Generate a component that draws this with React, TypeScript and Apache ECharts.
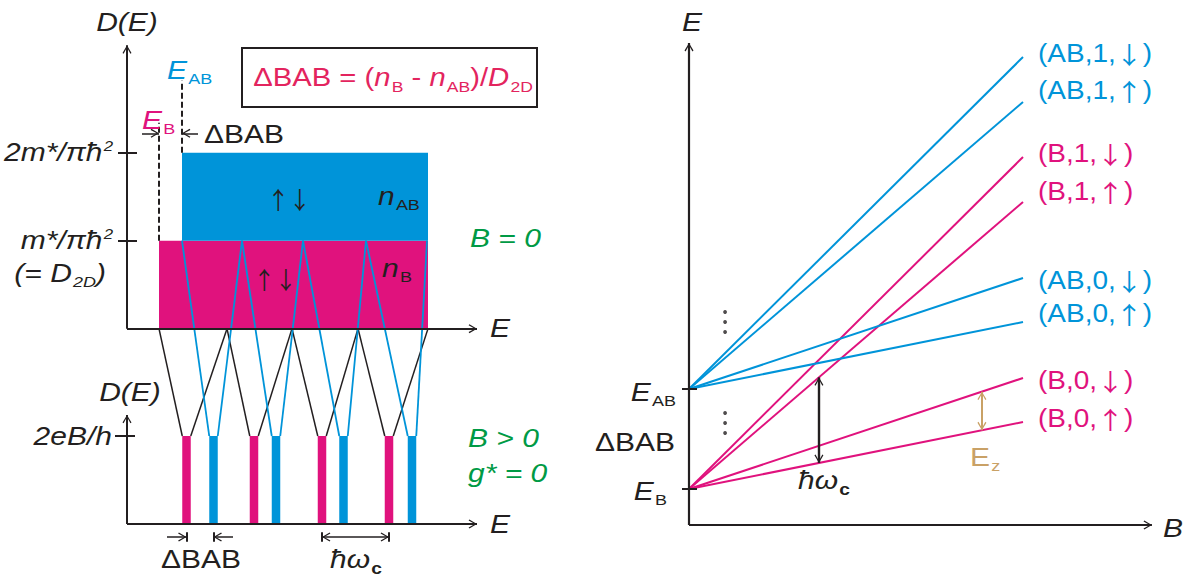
import React, { useEffect, useRef } from 'react';
import * as echarts from 'echarts';

// ---------- Left panel: density of states (E in arbitrary units) ----------
const E_B_LEFT = 3.2; // bonding subband edge E_B
const E_AB_LEFT = 5.5; // antibonding subband edge E_AB
const BAND_END = 30.1; // right end of the drawn bands
const DOS_LEVELS = [1, 2]; // m*/πħ², 2m*/πħ² (in units of D_2D)
const LL_HEIGHT = 1; // 2eB/h
const B_LEVELS = [5.95, 12.7, 19.5, 26.2]; // bonding Landau levels
const AB_LEVELS = [8.65, 14.9, 21.65, 28.5]; // antibonding Landau levels
const B_EDGES = [3.2, 10.0, 16.5, 23.1, 30.1];
const AB_EDGES = [5.5, 11.5, 17.6, 23.9, 30.0];
const LL_WIDTH = 0.85;

// ---------- Right panel: Landau fan ----------
const FAN_BAND = ['AB', 'AB', 'B', 'B', 'AB', 'AB', 'B', 'B'];
const FAN_N = ['1', '1', '1', '1', '0', '0', '0', '0'];
const FAN_SPIN = ['↓', '↑', '↓', '↑', '↓', '↑', '↓', '↑'];
const SUBBAND_E: Record<string, number> = { B: 1.0, AB: 2.0 };
const FAN_END = [5.32, 4.87, 4.32, 3.87, 3.11, 2.67, 2.11, 1.67]; // E at B = 1
const FAN_B_END = 1;
const HW_B = 0.389; // field where ħω_c is marked
const EZ_B = 0.877; // field where E_z is marked
const DOT_B = 0.108;
const DOTS_E = [2.77, 2.67, 2.57, 1.76, 1.66, 1.56];

// ---------- styling ----------
const MAGENTA = '#e0127d';
const BLUE = '#0094d9';
const GREEN = '#009a45';
const TAN = '#c9a166';
const INK = '#231f20';
const CRIMSON = '#e3245e';
const FONT = '"Liberation Sans", Arial, Helvetica, sans-serif';
const ARROW_FONT = '"Noto Sans CJK JP", "Noto Sans CJK SC", "DejaVu Sans", sans-serif';
const FS = 25;
const SUB = 15;
const SUB_DROP = 14;
const SX = 1.2;

const UB = 2.22; // vertical offset of the upper (B = 0) panel in the left grid

const ARROW =
  'path://M-8.4,-8.4L-8.39,-8.4L-8.4,-8.39ZM8.4,8.4L8.39,8.4L8.4,8.39ZM0,0L4.5,7.6L3.4,8.4L0,2.2L-3.4,8.4L-4.5,7.6Z';
const ARROW_SIZE = 16.8;

const fanE = (i: number, b: number) => {
  const s = SUBBAND_E[FAN_BAND[i]];
  return s + ((FAN_END[i] - s) * b) / FAN_B_END;
};

const seg = (xi: number, coords: number[][][], color: string, width: number, extra: any = {}) => ({
  type: 'lines',
  coordinateSystem: 'cartesian2d',
  xAxisIndex: xi,
  yAxisIndex: xi,
  silent: true,
  z: extra.z ?? 3,
  symbol: extra.symbol ?? 'none',
  symbolSize: ARROW_SIZE,
  lineStyle: { color, width, opacity: 1, type: extra.type ?? 'solid', curveness: 0, cap: 'butt' },
  data: coords.map((c) => ({ coords: c })),
});

const label = (
  x: number,
  yc: number,
  toks: [string, string][],
  color: string,
  align = 'left',
  sx = SX
) => {
  const base = { fontFamily: FONT, fill: color, verticalAlign: 'top' };
  const r = { ...base, fontSize: FS, lineHeight: FS };
  const s = { ...base, fontSize: SUB, lineHeight: SUB, padding: [SUB_DROP, 0, 0, 1] };
  const rich: any = {
    r,
    i: { ...r, fontStyle: 'italic' },
    a: { ...r, fontFamily: ARROW_FONT, fontSize: 24, lineHeight: FS },
    s,
    si: { ...s, fontStyle: 'italic' },
    sb: { ...s, fontWeight: 'bold', fontSize: SUB + 1 },
    p: { ...base, fontSize: 14, lineHeight: 14, padding: [0, 0, 0, 1], fontStyle: 'italic' },
  };
  return {
    type: 'text',
    x,
    y: yc - FS / 2,
    scaleX: sx,
    silent: true,
    z: 100,
    style: {
      text: toks.map(([k, t]) => `{${k}|${t}}`).join(''),
      rich,
      align,
      verticalAlign: 'top',
      fill: color,
      fontSize: FS,
      fontFamily: FONT,
    },
  };
};

const rectItem = (params: any, api: any) => {
  const tl = api.coord([api.value(0), api.value(3)]);
  const br = api.coord([api.value(1), api.value(2)]);
  return {
    type: 'rect',
    shape: { x: tl[0], y: tl[1], width: br[0] - tl[0], height: br[1] - tl[1] },
    style: { fill: api.visual('color') },
  };
};

function buildOption() {
  const half = LL_WIDTH / 2;
  const blackConn: number[][][] = [];
  const blueConn: number[][][] = [];
  B_LEVELS.forEach((c, k) => {
    blackConn.push([[c - half, LL_HEIGHT], [B_EDGES[k], UB]]);
    blackConn.push([[c + half, LL_HEIGHT], [B_EDGES[k + 1], UB]]);
  });
  AB_LEVELS.forEach((c, k) => {
    blueConn.push([[c - half, LL_HEIGHT], [AB_EDGES[k], UB + DOS_LEVELS[0]]]);
    blueConn.push([[c + half, LL_HEIGHT], [AB_EDGES[k + 1], UB + DOS_LEVELS[0]]]);
  });

  const yA = -0.148; // lower annotation row
  const series: any[] = [
    {
      type: 'custom',
      xAxisIndex: 0,
      yAxisIndex: 0,
      silent: true,
      z: 1,
      renderItem: rectItem,
      encode: { x: [0, 1], y: [2, 3] },
      data: [
        { value: [E_B_LEFT, BAND_END, UB, UB + DOS_LEVELS[0]], itemStyle: { color: MAGENTA } },
        { value: [E_AB_LEFT, BAND_END, UB + DOS_LEVELS[0], UB + DOS_LEVELS[1]], itemStyle: { color: BLUE } },
      ],
    },
    {
      type: 'custom',
      xAxisIndex: 0,
      yAxisIndex: 0,
      silent: true,
      z: 1,
      renderItem: rectItem,
      encode: { x: [0, 1], y: [2, 3] },
      data: [
        ...B_LEVELS.map((c) => ({ value: [c - half, c + half, 0, LL_HEIGHT], itemStyle: { color: MAGENTA } })),
        ...AB_LEVELS.map((c) => ({ value: [c - half, c + half, 0, LL_HEIGHT], itemStyle: { color: BLUE } })),
      ],
    },
    seg(0, blackConn, INK, 1.5),
    seg(0, blueConn, BLUE, 1.8, { z: 4 }),
    // dashed edges
    seg(
      0,
      [
        [[E_B_LEFT, UB + DOS_LEVELS[0]], [E_B_LEFT, UB + 2.34]],
        [[E_AB_LEFT, UB + DOS_LEVELS[1]], [E_AB_LEFT, UB + 2.82]],
      ],
      INK,
      2,
      { type: [6, 3] }
    ),
    // axes (left)
    seg(
      0,
      [
        [[0, UB], [0, UB + 3.22]],
        [[0, UB], [35, UB]],
        [[0, 0], [0, 1.24]],
        [[0, 0], [35, 0]],
      ],
      INK,
      2,
      { symbol: ['none', ARROW], z: 6 }
    ),
    // ticks (left)
    seg(
      0,
      [
        [[-0.9, UB + DOS_LEVELS[0]], [1.0, UB + DOS_LEVELS[0]]],
        [[-0.9, UB + DOS_LEVELS[1]], [1.0, UB + DOS_LEVELS[1]]],
        [[-1.2, LL_HEIGHT], [0.8, LL_HEIGHT]],
        [[B_LEVELS[0], yA + 0.055], [B_LEVELS[0], yA - 0.055]],
        [[AB_LEVELS[0], yA + 0.055], [AB_LEVELS[0], yA - 0.055]],
        [[B_LEVELS[2], yA + 0.055], [B_LEVELS[2], yA - 0.055]],
        [[B_LEVELS[3], yA + 0.055], [B_LEVELS[3], yA - 0.055]],
      ],
      INK,
      2,
      { z: 6 }
    ),
    // ΔBAB arrows (left)
    seg(
      0,
      [
        [[1.5, UB + 2.22], [E_B_LEFT, UB + 2.22]],
        [[7.1, UB + 2.22], [E_AB_LEFT, UB + 2.22]],
        [[4.0, yA], [B_LEVELS[0], yA]],
        [[10.6, yA], [AB_LEVELS[0], yA]],
      ],
      INK,
      1.6,
      { symbol: ['none', ARROW], z: 6 }
    ),
    seg(0, [[[B_LEVELS[2], yA], [B_LEVELS[3], yA]]], INK, 1.6, { symbol: [ARROW, ARROW], z: 6 }),
  ];

  // right panel: fan lines
  FAN_END.forEach((end, i) => {
    const color = FAN_BAND[i] === 'B' ? MAGENTA : BLUE;
    series.push({
      type: 'line',
      name: `(${FAN_BAND[i]},${FAN_N[i]},${FAN_SPIN[i]})`,
      xAxisIndex: 1,
      yAxisIndex: 1,
      silent: true,
      symbol: 'none',
      showSymbol: false,
      z: 2,
      lineStyle: { color, width: 2 },
      itemStyle: { color },
      data: [
        [0, SUBBAND_E[FAN_BAND[i]]],
        [FAN_B_END, end],
      ],
    });
  });
  series.push(
    seg(
      1,
      [
        [[0, 0.64], [0, 5.46]],
        [[0, 0.64], [1.386, 0.64]],
      ],
      INK,
      2.2,
      { symbol: ['none', ARROW], z: 6 }
    ),
    seg(
      1,
      [
        [[-0.021, SUBBAND_E.B], [0.024, SUBBAND_E.B]],
        [[-0.021, SUBBAND_E.AB], [0.024, SUBBAND_E.AB]],
      ],
      INK,
      2,
      { z: 6 }
    ),
    seg(1, [[[HW_B, fanE(7, HW_B)], [HW_B, fanE(3, HW_B)]]], INK, 2.4, { symbol: [ARROW, ARROW], z: 6 }),
    seg(1, [[[EZ_B, fanE(7, EZ_B)], [EZ_B, fanE(6, EZ_B)]]], TAN, 2, { symbol: [ARROW, ARROW], z: 6 }),
    {
      type: 'scatter',
      xAxisIndex: 1,
      yAxisIndex: 1,
      silent: true,
      symbol: 'circle',
      symbolSize: 3.8,
      itemStyle: { color: INK },
      data: DOTS_E.map((e) => [DOT_B, e]),
      z: 6,
    }
  );

  const FAN_LABEL_Y = [54, 91, 154, 192, 281, 314, 381, 419];
  const graphic: any[] = [
    label(127, 22, [['i', 'D(E)']], INK, 'center'),
    label(167, 70, [['i', 'E'], ['s', 'AB']], BLUE),
    label(142, 120, [['i', 'E'], ['s', 'B']], MAGENTA),
    label(204, 134, [['r', 'ΔBAB']], INK),
    {
      type: 'rect',
      silent: true,
      z: 99,
      shape: { x: 242, y: 48, width: 295, height: 59 },
      style: { fill: 'none', stroke: INK, lineWidth: 2 },
    },
    label(
      393,
      77,
      [
        ['r', 'ΔBAB = ('],
        ['i', 'n'],
        ['s', 'B'],
        ['r', ' - '],
        ['i', 'n'],
        ['s', 'AB'],
        ['r', ')/'],
        ['i', 'D'],
        ['s', '2D'],
      ],
      CRIMSON,
      'center',
      1.17
    ),
    label(113, 152, [['i', '2m*/πħ'], ['p', '2']], INK, 'right'),
    label(113, 240, [['i', 'm*/πħ'], ['p', '2']], INK, 'right'),
    label(106, 273, [['i', '(= D'], ['si', '2D'], ['i', ')']], INK, 'right'),
    label(289, 200, [['a', '↑↓']], INK, 'center', 0.9),
    label(378, 196, [['i', 'n'], ['s', 'AB']], INK),
    label(275, 280, [['a', '↑↓']], INK, 'center', 0.9),
    label(382, 268, [['i', 'n'], ['s', 'B']], INK),
    label(470, 238, [['i', 'B = 0']], GREEN),
    label(490, 328, [['i', 'E']], INK),
    label(130, 392, [['i', 'D(E)']], INK, 'center'),
    label(112, 436, [['i', '2eB/h']], INK, 'right'),
    label(490, 524, [['i', 'E']], INK),
    label(468, 438, [['i', 'B > 0']], GREEN),
    label(468, 473, [['i', 'g* = 0']], GREEN),
    label(201, 559, [['r', 'ΔBAB']], INK, 'center'),
    label(356, 559, [['i', 'ħω'], ['sb', 'c']], INK, 'center'),
    // right panel
    label(692, 22, [['i', 'E']], INK, 'center'),
    label(676, 392, [['i', 'E'], ['s', 'AB']], INK, 'right'),
    label(675, 442, [['r', 'ΔBAB']], INK, 'right'),
    label(667, 491, [['i', 'E'], ['s', 'B']], INK, 'right'),
    label(798, 480, [['i', 'ħω'], ['sb', 'c']], INK),
    label(970, 457, [['r', 'E'], ['s', 'z']], TAN),
    label(1163, 528, [['i', 'B']], INK),
    ...FAN_END.map((_, i) =>
      label(
        1038,
        FAN_LABEL_Y[i],
        [
          ['r', `(${FAN_BAND[i]},${FAN_N[i]},`],
          ['a', FAN_SPIN[i]],
          ['r', ')'],
        ],
        FAN_BAND[i] === 'B' ? MAGENTA : BLUE,
        'left',
        1.12
      )
    ),
  ];

  return {
    animation: false,
    backgroundColor: '#ffffff',
    grid: [
      { left: 107, top: 40, width: 370, height: 528 },
      { left: 668.96, top: 39, width: 487.64, height: 490 },
    ],
    xAxis: [
      { gridIndex: 0, type: 'value', min: -2, max: 35, show: false },
      { gridIndex: 1, type: 'value', min: -0.06, max: 1.4, show: false },
    ],
    yAxis: [
      { gridIndex: 0, type: 'value', min: -0.5, max: 5.5, show: false },
      { gridIndex: 1, type: 'value', min: 0.6, max: 5.5, show: false },
    ],
    series,
    graphic,
  };
}

export default function App() {
  const ref = useRef<HTMLDivElement>(null);
  useEffect(() => {
    if (!ref.current) return;
    const chart = echarts.init(ref.current, undefined, { renderer: 'svg' });
    chart.setOption(buildOption() as any);
    return () => chart.dispose();
  }, []);
  return (
    <div
      ref={ref}
      style={{ position: 'absolute', left: 0, top: 0, width: 1189, height: 578, background: '#fff' }}
    />
  );
}
